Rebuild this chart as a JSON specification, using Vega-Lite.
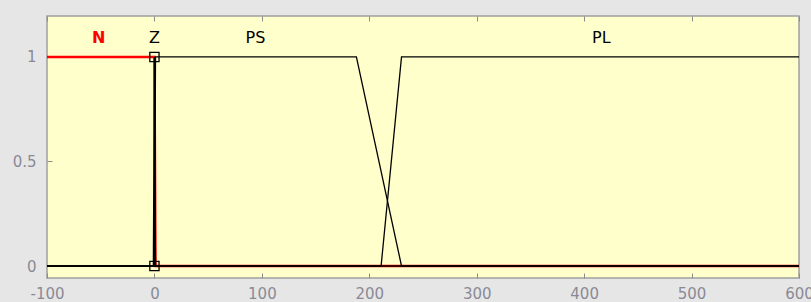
{
  "$schema": "https://vega.github.io/schema/vega-lite/v6.json",
  "width": 752,
  "height": 262,
  "autosize": "none",
  "padding": {"left": 47, "top": 16, "right": 12, "bottom": 24},
  "background": "#e6e6e6",
  "config": {
    "view": {"fill": "#ffffcc", "stroke": "#a0a0a0", "strokeWidth": 1.5},
    "axis": {
      "grid": false,
      "domain": false,
      "tickSize": -5,
      "tickColor": "#8c8c8c",
      "tickWidth": 1,
      "labelFont": "DejaVu Sans",
      "labelFontSize": 15,
      "labelColor": "#8a8a96",
      "title": null
    }
  },
  "datasets": {
    "mfs": [
      {"mf": "Z", "x": -100, "y": 0},
      {"mf": "Z", "x": -1, "y": 0},
      {"mf": "Z", "x": 0, "y": 1},
      {"mf": "Z", "x": 1, "y": 0},
      {"mf": "Z", "x": 600, "y": 0},
      {"mf": "PS", "x": -100, "y": 0},
      {"mf": "PS", "x": 0, "y": 0},
      {"mf": "PS", "x": 1, "y": 1},
      {"mf": "PS", "x": 188, "y": 1},
      {"mf": "PS", "x": 230, "y": 0},
      {"mf": "PS", "x": 600, "y": 0},
      {"mf": "PL", "x": -100, "y": 0},
      {"mf": "PL", "x": 211, "y": 0},
      {"mf": "PL", "x": 230, "y": 1},
      {"mf": "PL", "x": 600, "y": 1}
    ],
    "nmf": [
      {"mf": "N", "x": -100, "y": 1},
      {"mf": "N", "x": 0, "y": 1},
      {"mf": "N", "x": 1, "y": 0},
      {"mf": "N", "x": 600, "y": 0}
    ],
    "handles": [
      {"x": 0, "y": 1},
      {"x": 0, "y": 0}
    ],
    "labels": [
      {"label": "N", "x": -52, "y": 1.09},
      {"label": "Z", "x": 0, "y": 1.09},
      {"label": "PS", "x": 94, "y": 1.09},
      {"label": "PL", "x": 416, "y": 1.09}
    ]
  },
  "layer": [
    {
      "data": {"name": "nmf"},
      "mark": {"type": "line", "color": "#ff0000", "strokeWidth": 2.5},
      "encoding": {
        "x": {"field": "x", "type": "quantitative", "scale": {"domain": [-100, 600], "nice": false, "zero": false},
              "axis": {"orient": "bottom", "values": [-100, 0, 100, 200, 300, 400, 500, 600], "labelExpr": "'' + datum.value", "labelPadding": 13, "labelFlush": false, "labelOverlap": false}},
        "y": {"field": "y", "type": "quantitative", "scale": {"domain": [-0.0574, 1.196], "nice": false, "zero": false},
              "axis": {"values": [0, 0.5, 1], "labelExpr": "'' + datum.value", "labelPadding": 16}},
        "order": {"field": "x", "type": "quantitative"}
      }
    },
    {
      "data": {"name": "mfs"},
      "mark": {"type": "line", "color": "#000000", "strokeWidth": 1.3},
      "encoding": {
        "x": {"field": "x", "type": "quantitative", "axis": {"orient": "top", "values": [-100, 0, 100, 200, 300, 400, 500, 600], "labels": false}},
        "y": {"field": "y", "type": "quantitative", "axis": null},
        "detail": {"field": "mf", "type": "nominal"},
        "order": {"field": "x", "type": "quantitative"}
      }
    },
    {
      "data": {"name": "handles"},
      "mark": {"type": "point", "shape": "square", "filled": false, "color": "#000000", "strokeWidth": 1.3, "size": 85, "opacity": 1},
      "encoding": {
        "x": {"field": "x", "type": "quantitative", "axis": null},
        "y": {"field": "y", "type": "quantitative", "axis": null}
      }
    },
    {
      "data": {"name": "labels"},
      "transform": [{"filter": "datum.label === 'N'"}],
      "mark": {"type": "text", "font": "DejaVu Sans", "fontSize": 16, "fontWeight": "bold", "color": "#ff0000", "align": "center", "baseline": "middle"},
      "encoding": {
        "x": {"field": "x", "type": "quantitative", "axis": null},
        "y": {"field": "y", "type": "quantitative", "axis": null},
        "text": {"field": "label"}
      }
    },
    {
      "data": {"name": "labels"},
      "transform": [{"filter": "datum.label !== 'N'"}],
      "mark": {"type": "text", "font": "DejaVu Sans", "fontSize": 16, "color": "#000000", "align": "center", "baseline": "middle"},
      "encoding": {
        "x": {"field": "x", "type": "quantitative", "axis": null},
        "y": {"field": "y", "type": "quantitative", "axis": null},
        "text": {"field": "label"}
      }
    }
  ],
  "resolve": {"scale": {"x": "shared", "y": "shared"}, "axis": {"x": "independent", "y": "independent"}}
}
